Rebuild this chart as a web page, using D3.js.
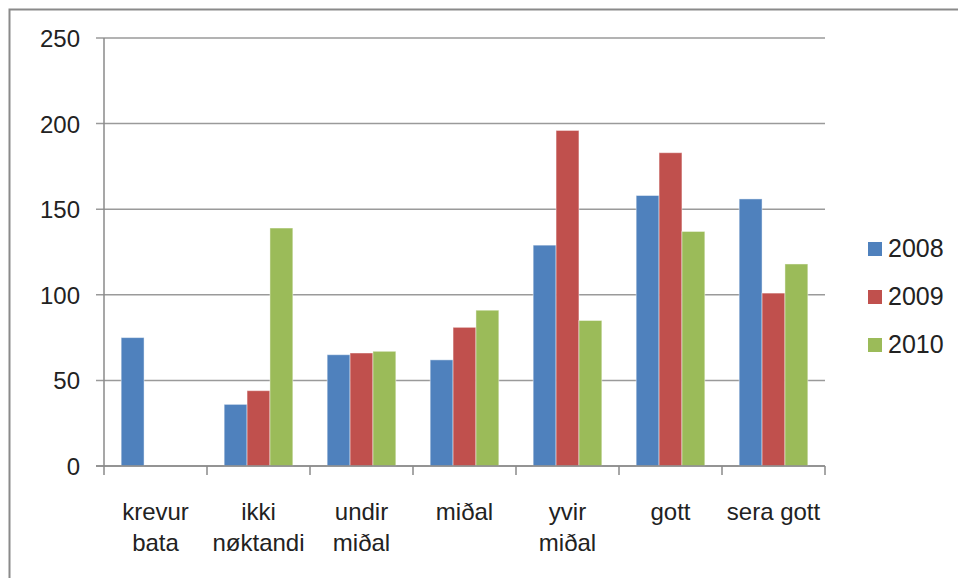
<!DOCTYPE html>
<html>
<head>
<meta charset="utf-8">
<script src="https://cdn.jsdelivr.net/npm/d3@7"></script>
<style>
  body { margin: 0; background: #fff; }
  svg { display: block; }
</style>
</head>
<body>
<div id="chart"></div>
<script>
// categories (two-line labels) and series
var categories = ["krevur bata", "ikki nøktandi", "undir miðal", "miðal", "yvir miðal", "gott", "sera gott"];
var catLines = [["krevur", "bata"], ["ikki", "nøktandi"], ["undir", "miðal"], ["miðal"], ["yvir", "miðal"], ["gott"], ["sera gott"]];
var years = ["2008", "2009", "2010"];
var v2008 = [75, 36, 65, 62, 129, 158, 156];
var v2009 = [0, 44, 66, 81, 196, 183, 101];
var v2010 = [0, 139, 67, 91, 85, 137, 118];
var yTicks = [0, 50, 100, 150, 200, 250];

var width = 958, height = 578;
var margin = { top: 38, right: 133, bottom: 112, left: 104 };
var colors = ["#4F81BD", "#C0504D", "#9BBB59"];
var font = "'Liberation Sans', Arial, sans-serif";

var svg = d3.select("#chart")
  .append("svg")
  .attr("width", width)
  .attr("height", height);

// outer frame (runs past the right and bottom edges)
svg.append("rect")
  .attr("x", 9.5).attr("y", 9.5)
  .attr("width", 1000).attr("height", 1000)
  .attr("fill", "none")
  .attr("stroke", "#8a8a8a")
  .attr("stroke-width", 2);

var x = d3.scaleBand()
  .domain(categories)
  .range([margin.left, width - margin.right]);

var y = d3.scaleLinear()
  .domain([0, 250])
  .range([height - margin.bottom, margin.top]);

// gridlines
svg.append("g")
  .selectAll("line")
  .data(yTicks)
  .enter()
  .append("line")
  .attr("x1", margin.left - 8)
  .attr("x2", width - margin.right)
  .attr("y1", function (d) { return y(d); })
  .attr("y2", function (d) { return y(d); })
  .attr("stroke", "#9a9a9a")
  .attr("stroke-width", 1.5);

// bars: 3 bars plus a 150% gap per category
var series = [v2008, v2009, v2010];
var barW = x.bandwidth() / 4.5;
series.forEach(function (vals, s) {
  svg.append("g")
    .selectAll("rect")
    .data(vals.map(function (d, i) { return { cat: categories[i], v: d }; })
      .filter(function (d) { return d.v > 0; }))
    .enter()
    .append("rect")
    .attr("x", function (d) { return x(d.cat) + barW * 0.75 + s * barW; })
    .attr("y", function (d) { return y(d.v); })
    .attr("width", barW)
    .attr("height", function (d) { return y(0) - y(d.v); })
    .attr("fill", colors[s])
    .attr("stroke", "rgba(255,255,255,0.45)")
    .attr("stroke-width", 1);
});

// y axis line
svg.append("line")
  .attr("x1", margin.left).attr("x2", margin.left)
  .attr("y1", y(250)).attr("y2", y(0) + 9)
  .attr("stroke", "#8a8a8a").attr("stroke-width", 1.5);

// x axis line and ticks
svg.append("line")
  .attr("x1", margin.left - 8).attr("x2", width - margin.right)
  .attr("y1", y(0)).attr("y2", y(0))
  .attr("stroke", "#8a8a8a").attr("stroke-width", 1.5);

var bounds = categories.map(function (c) { return x(c); }).concat([width - margin.right]);
svg.append("g")
  .selectAll("line")
  .data(bounds.slice(1))
  .enter()
  .append("line")
  .attr("x1", function (d) { return d; })
  .attr("x2", function (d) { return d; })
  .attr("y1", y(0))
  .attr("y2", y(0) + 9)
  .attr("stroke", "#8a8a8a").attr("stroke-width", 1.5);

// y tick labels
svg.append("g")
  .selectAll("text")
  .data(yTicks)
  .enter()
  .append("text")
  .attr("x", 80)
  .attr("y", function (d) { return y(d) + 9; })
  .attr("text-anchor", "end")
  .attr("font-family", font)
  .attr("font-size", 24)
  .attr("fill", "#222")
  .text(function (d) { return d; });

// category labels
var catG = svg.append("g");
catLines.forEach(function (lines, i) {
  var cx = x(categories[i]) + x.bandwidth() / 2;
  var t = catG.append("text")
    .attr("x", cx)
    .attr("y", 520)
    .attr("text-anchor", "middle")
    .attr("font-family", font)
    .attr("font-size", 24)
    .attr("fill", "#222");
  lines.forEach(function (l, k) {
    t.append("tspan")
      .attr("x", cx)
      .attr("dy", k === 0 ? 0 : 31)
      .text(l);
  });
});

// legend
var legend = svg.append("g")
  .selectAll("g")
  .data(years)
  .enter()
  .append("g")
  .attr("transform", function (d, i) { return "translate(868," + (242 + i * 48) + ")"; });
legend.append("rect")
  .attr("width", 14).attr("height", 14)
  .attr("fill", function (d, i) { return colors[i]; });
legend.append("text")
  .attr("x", 20).attr("y", 15)
  .attr("font-family", font)
  .attr("font-size", 25)
  .attr("fill", "#222")
  .text(function (d) { return d; });
</script>
</body>
</html>
